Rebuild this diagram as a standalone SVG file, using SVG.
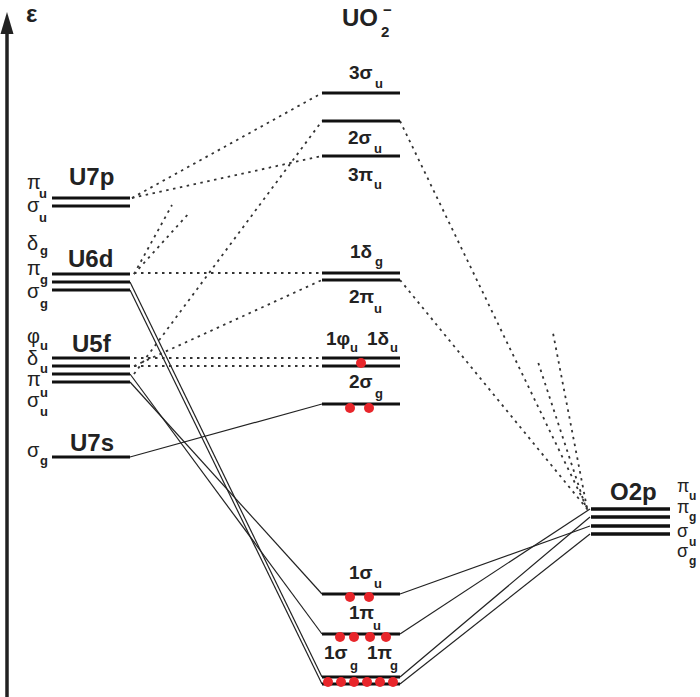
<svg xmlns="http://www.w3.org/2000/svg" width="700" height="697" viewBox="0 0 700 697">
<style>
.lv{stroke:#111;stroke-width:3;fill:none}
.lvr{stroke:#111;stroke-width:3.5;fill:none}
.sol{stroke:#222;stroke-width:1.2;fill:none}
.dt{stroke:#333;stroke-width:1.8;stroke-dasharray:2.5 4.5;fill:none}
.e{fill:#e8262b}
text{font-family:"Liberation Sans",Arial,sans-serif;fill:#222}
.ttl{font-size:24px;font-weight:bold}
.ml{font-size:19px;font-weight:bold}
.gk{font-size:20px}
.gkr{font-size:18px}
.sb{font-size:13px;font-weight:bold}
.sbr{font-size:12px;font-weight:bold}
</style>
<rect width="700" height="697" fill="#fff"/>
<g id="axis">
<line x1="7" y1="30" x2="7" y2="697" stroke="#222" stroke-width="3.5"/>
<polygon points="7,12 0.5,34 13.5,34" fill="#222"/>
<text x="26" y="22" style="font-size:24px;font-weight:bold">ε</text>
</g>
<g id="connectors">
<line class="sol" x1="130" y1="457" x2="322" y2="404"/>
<line class="sol" x1="130" y1="382" x2="322" y2="594"/>
<line class="sol" x1="130" y1="374" x2="322" y2="634"/>
<line class="sol" x1="130" y1="282" x2="322" y2="677"/>
<line class="sol" x1="130" y1="290" x2="322" y2="684"/>
<line class="sol" x1="400" y1="594" x2="590" y2="526"/>
<line class="sol" x1="400" y1="634" x2="590" y2="509"/>
<line class="sol" x1="400" y1="677" x2="590" y2="517"/>
<line class="sol" x1="400" y1="684" x2="590" y2="534"/>
<line class="dt" x1="132" y1="198" x2="322" y2="93"/>
<line class="dt" x1="132" y1="198" x2="322" y2="156"/>
<line class="dt" x1="134" y1="274" x2="172" y2="205"/>
<line class="dt" x1="134" y1="274" x2="190" y2="212"/>
<line class="dt" x1="134" y1="273" x2="322" y2="273"/>
<line class="dt" x1="134" y1="374" x2="322" y2="121"/>
<line class="dt" x1="134" y1="366" x2="322" y2="280"/>
<line class="dt" x1="134" y1="358" x2="322" y2="358"/>
<line class="dt" x1="134" y1="366" x2="322" y2="366"/>
<line class="dt" x1="400" y1="121" x2="588" y2="510"/>
<line class="dt" x1="400" y1="280" x2="588" y2="510"/>
<line class="dt" x1="587" y1="508" x2="553" y2="333"/>
<line class="dt" x1="585" y1="505" x2="538" y2="362"/>
</g>
<g id="U7p">
<line class="lv" x1="52" y1="198" x2="130" y2="198"/>
<line class="lv" x1="52" y1="206" x2="130" y2="206"/>
<text class="ttl" x="69" y="185">U7p</text>
<text class="gk" x="27" y="189">π</text><text class="sb" x="39" y="198">u</text>
<text class="gk" x="27" y="212">σ</text><text class="sb" x="39" y="222">u</text>
</g>
<g id="U6d">
<line class="lv" x1="52" y1="274" x2="130" y2="274"/>
<line class="lv" x1="52" y1="282" x2="130" y2="282"/>
<line class="lv" x1="52" y1="290" x2="130" y2="290"/>
<text class="ttl" x="68" y="267">U6d</text>
<text class="gk" x="27" y="250">δ</text><text class="sb" x="40" y="255">g</text>
<text class="gk" x="27" y="275">π</text><text class="sb" x="40" y="284">g</text>
<text class="gk" x="27" y="298">σ</text><text class="sb" x="40" y="308">g</text>
</g>
<g id="U5f">
<line class="lv" x1="52" y1="358" x2="130" y2="358"/>
<line class="lv" x1="52" y1="366" x2="130" y2="366"/>
<line class="lv" x1="52" y1="374" x2="130" y2="374"/>
<line class="lv" x1="52" y1="382" x2="130" y2="382"/>
<text class="ttl" x="72" y="352">U5f</text>
<text class="gk" x="27" y="343">φ</text><text class="sb" x="40" y="350">u</text>
<text class="gk" x="27" y="365">δ</text><text class="sb" x="40" y="373">u</text>
<text class="gk" x="27" y="386">π</text><text class="sb" x="40" y="397">u</text>
<text class="gk" x="27" y="407">σ</text><text class="sb" x="40" y="416">u</text>
</g>
<g id="U7s">
<line class="lv" x1="52" y1="457" x2="130" y2="457"/>
<text class="ttl" x="70" y="451">U7s</text>
<text class="gk" x="27" y="457">σ</text><text class="sb" x="40" y="465">g</text>
</g>
<g id="UO2">
<text class="ttl" x="342" y="26">UO</text>
<text x="381" y="37" style="font-size:15px;font-weight:bold">2</text>
<text x="383" y="15" style="font-size:15px;font-weight:bold">−</text>
</g>
<g id="m3su">
<line class="lv" x1="322" y1="93" x2="400" y2="93"/>
<text class="ml" x="349" y="79">3σ</text><text class="sb" x="375" y="88">u</text>
</g>
<g id="m2su">
<line class="lv" x1="322" y1="121" x2="400" y2="121"/>
<text class="ml" x="348" y="144">2σ</text><text class="sb" x="374" y="153">u</text>
</g>
<g id="m3pu">
<line class="lv" x1="322" y1="156" x2="400" y2="156"/>
<text class="ml" x="348" y="181">3π</text><text class="sb" x="374" y="189">u</text>
</g>
<g id="m1dg2pu">
<line class="lv" x1="322" y1="273" x2="400" y2="273"/>
<line class="lv" x1="322" y1="280" x2="400" y2="280"/>
<text class="ml" x="350" y="258">1δ</text><text class="sb" x="375" y="266">g</text>
<text class="ml" x="349" y="303">2π</text><text class="sb" x="374" y="313">u</text>
</g>
<g id="m1fu1du">
<line class="lv" x1="322" y1="358" x2="400" y2="358"/>
<line class="lv" x1="322" y1="366" x2="400" y2="366"/>
<text class="ml" x="326" y="345">1φ</text><text class="sb" x="350" y="352">u</text>
<text class="ml" x="367" y="345">1δ</text><text class="sb" x="390" y="352">u</text>
<circle class="e" cx="361" cy="363" r="5"/>
</g>
<g id="m2sg">
<line class="lv" x1="322" y1="404" x2="400" y2="404"/>
<text class="ml" x="349" y="388">2σ</text><text class="sb" x="375" y="398">g</text>
<circle class="e" cx="350" cy="408" r="5"/><circle class="e" cx="369" cy="408" r="5"/>
</g>
<g id="m1su">
<line class="lv" x1="322" y1="594" x2="400" y2="594"/>
<text class="ml" x="349" y="579">1σ</text><text class="sb" x="374" y="588">u</text>
<circle class="e" cx="350" cy="597" r="5"/><circle class="e" cx="369" cy="597" r="5"/>
</g>
<g id="m1pu">
<line class="lv" x1="322" y1="634" x2="400" y2="634"/>
<text class="ml" x="349" y="619">1π</text><text class="sb" x="373" y="630">u</text>
<circle class="e" cx="340" cy="637" r="5"/><circle class="e" cx="354" cy="637" r="5"/>
<circle class="e" cx="370" cy="637" r="5"/><circle class="e" cx="386" cy="637" r="5"/>
</g>
<g id="m1sg1pg">
<line class="lv" x1="322" y1="677" x2="400" y2="677"/>
<line class="lv" x1="322" y1="684" x2="400" y2="684"/>
<text class="ml" x="324" y="659">1σ</text><text class="sb" x="350" y="670">g</text>
<text class="ml" x="367" y="659">1π</text><text class="sb" x="390" y="670">g</text>
<circle class="e" cx="328" cy="682" r="5"/><circle class="e" cx="341" cy="682" r="5"/>
<circle class="e" cx="354" cy="682" r="5"/><circle class="e" cx="367" cy="682" r="5"/>
<circle class="e" cx="380" cy="682" r="5"/><circle class="e" cx="393" cy="682" r="5"/>
</g>
<g id="O2p">
<line class="lvr" x1="591" y1="509" x2="670" y2="509"/>
<line class="lvr" x1="591" y1="517" x2="670" y2="517"/>
<line class="lvr" x1="591" y1="526" x2="670" y2="526"/>
<line class="lvr" x1="591" y1="534" x2="670" y2="534"/>
<text class="ttl" x="610" y="500">O2p</text>
<text class="gkr" x="677" y="492">π</text><text class="sbr" x="689" y="500">u</text>
<text class="gkr" x="677" y="513">π</text><text class="sbr" x="689" y="521">g</text>
<text class="gkr" x="677" y="537">σ</text><text class="sbr" x="689" y="546">u</text>
<text class="gkr" x="677" y="557">σ</text><text class="sbr" x="689" y="565">g</text>
</g>
</svg>
